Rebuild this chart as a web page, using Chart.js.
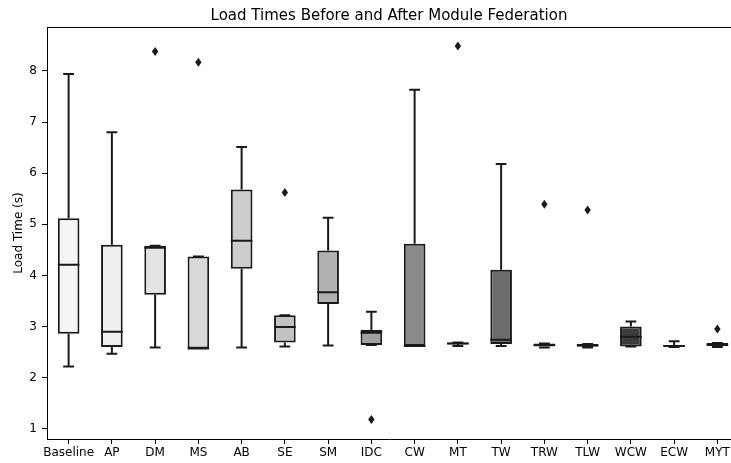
<!DOCTYPE html>
<html>
<head>
<meta charset="utf-8">
<script src="https://cdn.jsdelivr.net/npm/chart.js@4.4.1/dist/chart.umd.min.js"></script>
<style>
  html, body { margin: 0; padding: 0; background: #fff; }
  canvas { display: block; }
</style>
</head>
<body>
<canvas id="myChart" width="731" height="463"></canvas>
<script>
const labels = ["Baseline", "AP", "DM", "MS", "AB", "SE", "SM", "IDC", "CW", "MT", "TW", "TRW", "TLW", "WCW", "ECW", "MYT"];

// box plot statistics (seconds)
const whiskerLow  = [2.22, 2.47, 2.59, 2.57, 2.59, 2.61, 2.63, 2.64, 2.62, 2.62, 2.62, 2.59, 2.59, 2.61, 2.60, 2.60];
const q1          = [2.86, 2.60, 3.62, 2.57, 4.13, 2.69, 3.44, 2.64, 2.62, 2.65, 2.66, 2.61, 2.61, 2.61, 2.61, 2.62];
const median      = [4.21, 2.90, 4.54, 2.57, 4.68, 2.99, 3.67, 2.88, 2.62, 2.67, 2.74, 2.64, 2.63, 2.80, 2.62, 2.65];
const q3          = [5.12, 4.60, 4.58, 4.37, 5.68, 3.22, 4.49, 2.93, 4.62, 2.69, 4.11, 2.67, 2.66, 3.00, 2.64, 2.68];
const whiskerHigh = [7.94, 6.80, 4.58, 4.37, 6.51, 3.22, 5.13, 3.29, 7.63, 2.69, 6.18, 2.67, 2.66, 3.10, 2.71, 2.68];
const outliers    = [null, null, 8.38, 8.17, null, 5.62, null, 1.18, null, 8.49, null, 5.39, 5.28, null, null, 2.95];

const boxColors = ["#f5f5f5", "#efefef", "#e3e3e3", "#d9d9d9", "#cdcdcd", "#c2c2c2", "#b1b1b1", "#a1a1a1",
                   "#8a8a8a", "#7b7b7b", "#6c6c6c", "#5c5c5c", "#4c4c4c", "#3c3c3c", "#2c2c2c", "#1c1c1c"];

const yTicks = [1, 2, 3, 4, 5, 6, 7, 8];
const yMin = 0.80;
const yMax = 8.86;

const lineColor = "#1a1a1a";
// the axes run a little past the right edge of the picture
const overflowRight = 8;

const boxPlotPlugin = {
    id: "boxPlot",
    afterLayout(chart) {
        var x = chart.scales.x;
        x.right += overflowRight;
        x.width += overflowRight;
        chart.chartArea.right += overflowRight;
        chart.chartArea.width += overflowRight;
        x.configure();
    },
    afterDatasetsDraw(chart) {
        var ctx = chart.ctx;
        var x = chart.scales.x;
        var y = chart.scales.y;
        var bars = chart.getDatasetMeta(0).data;
        ctx.save();
        ctx.strokeStyle = lineColor;
        ctx.fillStyle = lineColor;
        ctx.lineWidth = 2;
        for (var i = 0; i < labels.length; i++) {
            var cx = x.getPixelForValue(i);
            var w = bars[i].width;
            var half = w / 2;
            var cap = w / 4;
            ctx.beginPath();
            // lower whisker
            ctx.moveTo(cx, y.getPixelForValue(q1[i]));
            ctx.lineTo(cx, y.getPixelForValue(whiskerLow[i]));
            ctx.moveTo(cx - cap, y.getPixelForValue(whiskerLow[i]));
            ctx.lineTo(cx + cap, y.getPixelForValue(whiskerLow[i]));
            // upper whisker
            ctx.moveTo(cx, y.getPixelForValue(q3[i]));
            ctx.lineTo(cx, y.getPixelForValue(whiskerHigh[i]));
            ctx.moveTo(cx - cap, y.getPixelForValue(whiskerHigh[i]));
            ctx.lineTo(cx + cap, y.getPixelForValue(whiskerHigh[i]));
            // median
            ctx.moveTo(cx - half, y.getPixelForValue(median[i]));
            ctx.lineTo(cx + half, y.getPixelForValue(median[i]));
            ctx.stroke();

            if (outliers[i] !== null) {
                var oy = y.getPixelForValue(outliers[i]);
                ctx.beginPath();
                ctx.moveTo(cx, oy - 4.5);
                ctx.lineTo(cx + 3.2, oy);
                ctx.lineTo(cx, oy + 4.5);
                ctx.lineTo(cx - 3.2, oy);
                ctx.closePath();
                ctx.fill();
            }
        }
        ctx.restore();
    },
    afterDraw(chart) {
        // top spine
        var a = chart.chartArea;
        var ctx = chart.ctx;
        ctx.save();
        ctx.strokeStyle = "#000";
        ctx.lineWidth = 1;
        ctx.beginPath();
        ctx.moveTo(Math.round(a.left), Math.round(a.top) + 0.5);
        ctx.lineTo(a.right, Math.round(a.top) + 0.5);
        ctx.stroke();
        ctx.restore();
    }
};

const data = {
    labels: labels,
    datasets: [{
        label: "Load Time",
        data: labels.map(function(_, i) { return [q1[i], q3[i]]; }),
        backgroundColor: boxColors,
        borderColor: lineColor,
        borderWidth: 2,
        borderSkipped: false,
        categoryPercentage: 1.0,
        barPercentage: 0.5,
    }],
};

const config = {
    type: "bar",
    data: data,
    options: {
        responsive: false,
        animation: false,
        layout: {
            padding: { left: 0, right: 0, top: 0, bottom: 0 },
        },
        plugins: {
            legend: { display: false },
            tooltip: { enabled: false },
            title: {
                display: true,
                fullSize: false,
                text: "Load Times Before and After Module Federation",
                color: "#000",
                font: { family: "DejaVu Sans", size: 15, weight: "normal" },
                padding: { top: 7, bottom: 2 },
            },
        },
        scales: {
            x: {
                grid: { display: true, offset: false, drawOnChartArea: false, drawTicks: true, tickLength: 5, color: "#000" },
                border: { display: true, color: "#000", width: 1 },
                ticks: {
                    color: "#000",
                    padding: 2,
                    maxRotation: 0,
                    autoSkip: false,
                    font: { family: "DejaVu Sans", size: 12 },
                },
                afterFit: function(scale) { scale.height = 24; },
            },
            y: {
                min: yMin,
                max: yMax,
                grid: { display: true, drawOnChartArea: false, drawTicks: true, tickLength: 5, color: "#000" },
                border: { display: true, color: "#000", width: 1 },
                ticks: {
                    color: "#000",
                    padding: 5,
                    font: { family: "DejaVu Sans", size: 12 },
                },
                afterBuildTicks: function(scale) {
                    scale.ticks = yTicks.map(function(v) { return { value: v }; });
                },
                title: {
                    display: true,
                    text: "Load Time (s)",
                    color: "#000",
                    font: { family: "DejaVu Sans", size: 12 },
                    padding: { top: 12, bottom: 0 },
                },
                afterFit: function(scale) { scale.width = 47; },
            },
        },
    },
    plugins: [boxPlotPlugin],
};

const myChart = new Chart(
    document.getElementById("myChart"),
    config,
);
</script>
</body>
</html>
